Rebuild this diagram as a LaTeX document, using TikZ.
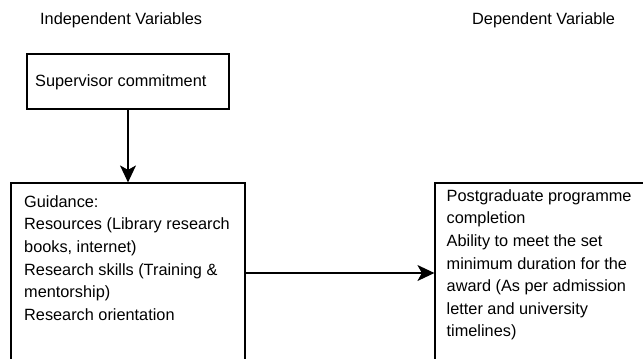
\documentclass[tikz,border=0pt]{standalone}
\usepackage{fontspec}
\setmainfont{Liberation Sans}
\usetikzlibrary{arrows.meta}
\begin{document}
\begin{tikzpicture}[x=1bp,y=-1bp,
  box/.style={draw=black,line width=1.2bp,inner sep=0,rectangle},
  txt/.style={inner sep=0,align=left,font=\fontsize{16.3bp}{22.6bp}\selectfont},
  arr/.style={draw=black,line width=1.2bp,-{Stealth[length=17bp,width=16bp,inset=4.5bp]}}]
\useasboundingbox (0,0) rectangle (643,358);
\clip (0,0) rectangle (643,358);
\fill[white] (0,0) rectangle (643,358);
% headers
\node[txt,anchor=base west] (hind) at (40,24) {Independent Variables};
\node[txt,anchor=base west] (hdep) at (472,24) {Dependent Variable};
% boxes
\node[box,minimum width=202bp,minimum height=55bp] (sup) at (128,81.5) {};
\node[box,minimum width=234bp,minimum height=180bp] (guid) at (128,273) {};
\node[box,minimum width=215bp,minimum height=180bp] (dep) at (542.5,273) {};
% texts
\node[txt,anchor=base west] (suptext) at (35,86) {Supervisor commitment};
\node[txt,anchor=north west] (guidtext) at (24,191.2) {\strut Guidance:\\
Resources (Library research\\
books, internet)\\
Research skills (Training \&\\
mentorship)\\
Research orientation};
\node[txt,anchor=north west] (deptext) at (446.5,185.2) {\strut Postgraduate programme\\
completion\\
Ability to meet the set\\
minimum duration for the\\
award (As per admission\\
letter and university\\
timelines)};
% connectors
\draw[arr] (sup.south) -- (guid.north);
\draw[arr] (guid.east) -- (dep.west);
\end{tikzpicture}
\end{document}
